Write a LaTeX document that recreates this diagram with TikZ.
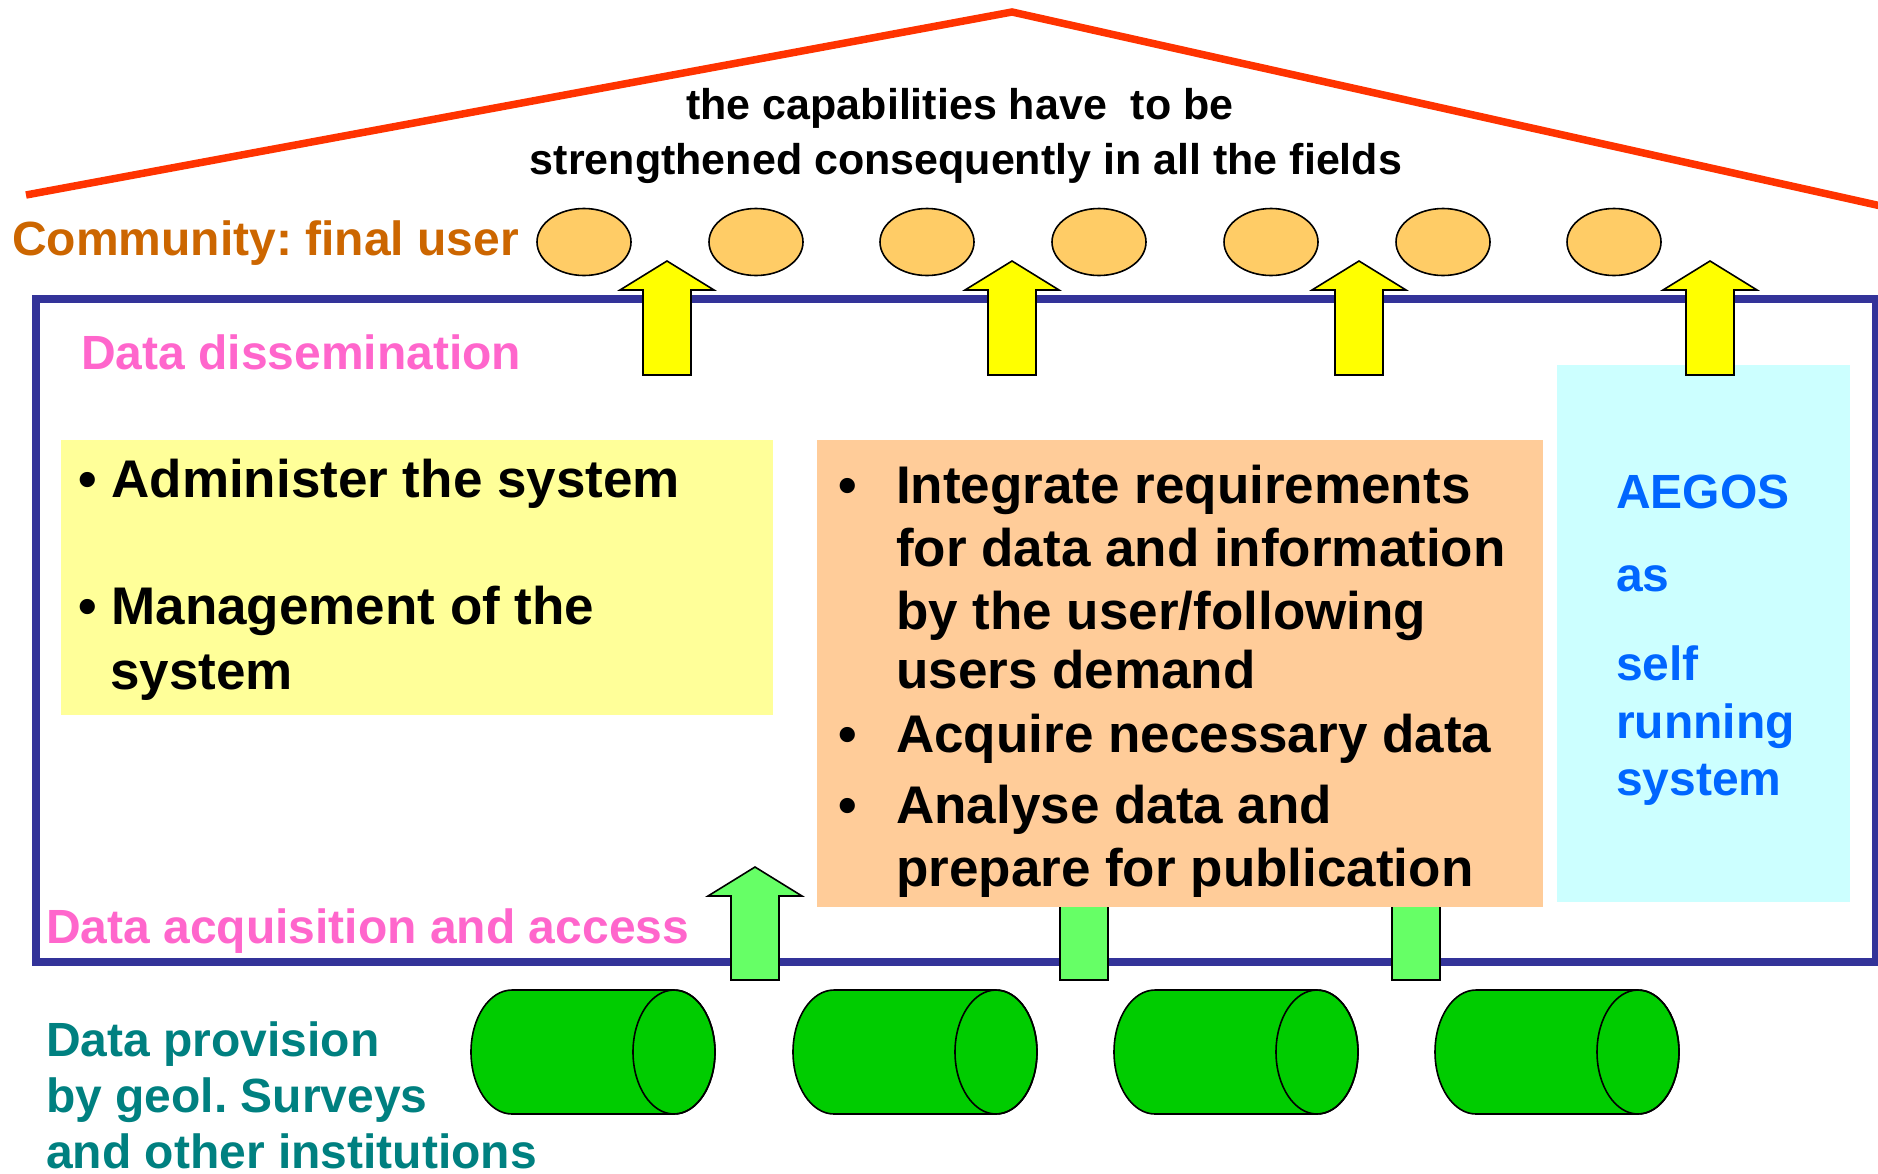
\documentclass[tikz,border=0pt]{standalone}
\usepackage{fontspec}
\setmainfont{Liberation Sans}
\usepackage{tikz}
\usetikzlibrary{positioning}
\frenchspacing

\definecolor{roofred}{HTML}{FF3300}
\definecolor{housblue}{HTML}{333399}
\definecolor{commbrown}{HTML}{CC6600}
\definecolor{labpink}{HTML}{FF66CC}
\definecolor{boxyellow}{HTML}{FFFF99}
\definecolor{boxorange}{HTML}{FFCC99}
\definecolor{boxcyan}{HTML}{CCFFFF}
\definecolor{aegosblue}{HTML}{0066FF}
\definecolor{userfill}{HTML}{FFCC66}
\definecolor{upyellow}{HTML}{FFFF00}
\definecolor{upgreen}{HTML}{66FF66}
\definecolor{dbgreen}{HTML}{00CC00}
\definecolor{provteal}{HTML}{008080}

\tikzset{
  txt/.style={anchor=base west,inner sep=0pt,font=\bfseries\fontsize{48}{56}\selectfont},
  bigtxt/.style={txt,font=\bfseries\fontsize{53}{63}\selectfont},
  titletxt/.style={anchor=base,inner sep=0pt,font=\bfseries\fontsize{43}{55}\selectfont},
  outl/.style={draw=black,line width=1.6pt,line join=miter},
}

\begin{document}
\begin{tikzpicture}[x=1pt,y=-1pt]
        \useasboundingbox (0,0) rectangle (1878,1173);

        % roof
        \draw [roofred,line width=7.5pt] (26,195) -- (1012,12) -- (1890,208);
        \node [titletxt] (title1) at (960,119) {the capabilities have~ to be};
        \node [titletxt] (title2) at (966,174) {strengthened consequently in all the fields};

        % community
        \node [txt,commbrown] (comm) at (12,255) {Community: final user};
        \foreach \ux in {584,756,927,1099,1271,1443,1614}
            \filldraw [outl,fill=userfill] (\ux,242) ellipse [x radius=47,y radius=33.5];

        % house body
        \draw [housblue,line width=7.5pt] (36,299) rectangle (1876,962);
        \node [txt,labpink] (dissem) at (81,369) {Data dissemination};

        \fill [boxyellow] (61,440) rectangle (773,715);
        \node [bigtxt] (admin) at (78,497) {• Administer the system};
        \node [bigtxt] (manage1) at (78,624) {• Management of the};
        \node [bigtxt] (manage2) at (110,689) {system};

        \fill [boxcyan] (1557,365) rectangle (1850,902);
        \node [txt,aegosblue] (aegos) at (1616,508) {AEGOS};
        \node [txt,aegosblue] (aegosas) at (1616,591) {as};
        \node [txt,aegosblue] (self) at (1616,680) {self};
        \node [txt,aegosblue] (running) at (1616,738) {running};
        \node [txt,aegosblue] (system) at (1616,795) {system};

        % arrows to the users
        \foreach \ax in {667,1012,1359,1710}
            \filldraw [outl,fill=upyellow] (\ax,261) -- ++(47,29) -- ++(-23,0) -- ++(0,85)
                -- ++(-48,0) -- ++(0,-85) -- ++(-23,0) -- cycle;

        % arrows from the providers
        \foreach \ax in {755,1084,1416}
            \filldraw [outl,fill=upgreen] (\ax,867) -- ++(47,29) -- ++(-23,0) -- ++(0,84)
                -- ++(-48,0) -- ++(0,-84) -- ++(-23,0) -- cycle;

        \fill [boxorange] (817,440) rectangle (1543,907);
        \foreach \by in {503,752,823}
            \node [bigtxt] at (838,\by) {•};
        \node [bigtxt] (integ1) at (896,503) {Integrate requirements};
        \node [bigtxt] (integ2) at (896,566) {for data and information};
        \node [bigtxt] (integ3) at (896,629) {by the user/following};
        \node [bigtxt] (integ4) at (896,688) {users demand};
        \node [bigtxt] (acquire) at (896,752) {Acquire necessary data};
        \node [bigtxt] (analyse1) at (896,823) {Analyse data and};
        \node [bigtxt] (analyse2) at (896,886) {prepare for publication};

        \node [txt,labpink] (acq) at (46,943) {Data acquisition and access};

        % data bases
        \foreach \cx in {593,915,1236,1557} {
            \filldraw [outl,fill=dbgreen] (\cx-81,990) -- (\cx+81,990)
                arc [start angle=-90,end angle=90,x radius=41,y radius=62]
                -- (\cx-81,1114)
                arc [start angle=90,end angle=270,x radius=41,y radius=62] -- cycle;
            \draw [outl] (\cx+81,1052) ellipse [x radius=41,y radius=62];
        }

        \node [txt,provteal] (prov1) at (46,1056) {Data provision};
        \node [txt,provteal] (prov2) at (46,1112) {by geol. Surveys};
        \node [txt,provteal] (prov3) at (46,1168) {and other institutions};
    \end{tikzpicture}
\end{document}
